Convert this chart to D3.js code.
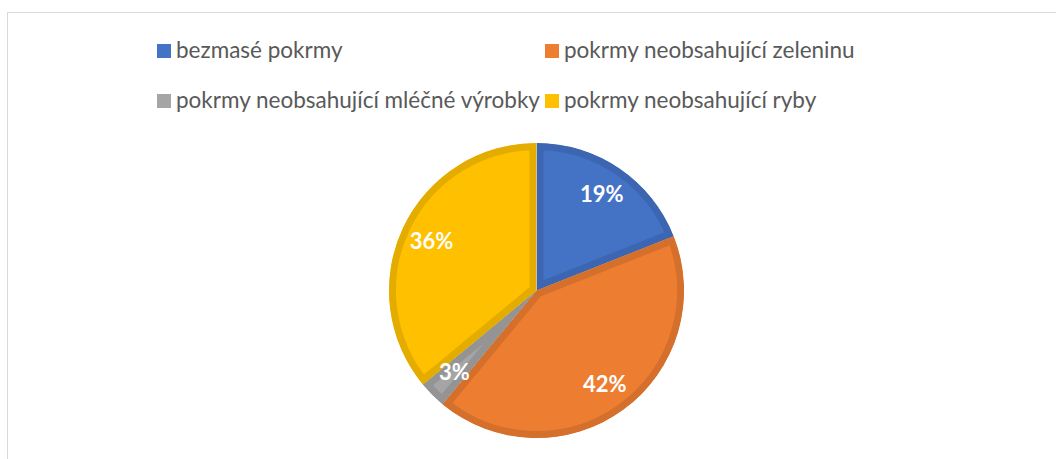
<!DOCTYPE html>
<html>
<head>
  <meta charset="utf-8">
  <title>Pie</title>
  <script src="https://cdn.jsdelivr.net/npm/d3@7/dist/d3.min.js"></script>
  <style>
    html, body { margin: 0; padding: 0; background: #fff; }
    svg { display: block; }
  </style>
</head>
<body>
<svg id="chart" width="1056" height="459"></svg>
<script>
  // data
  var categories = ['bezmasé pokrmy', 'pokrmy neobsahující zeleninu',
                    'pokrmy neobsahující mléčné výrobky', 'pokrmy neobsahující ryby'];
  var values = [19, 42, 3, 36];
  var fills = ['#4472C4', '#ED7D31', '#A5A5A5', '#FFC000'];
  var borders = ['#3C66B2', '#D46F2C', '#949494', '#E5AC00'];

  var svg = d3.select('#chart');

  // chart frame
  svg.append('rect')
    .attr('x', 7.5).attr('y', 12.5)
    .attr('width', 1100).attr('height', 500)
    .attr('fill', '#fff')
    .attr('stroke', '#D9D9D9')
    .attr('stroke-width', 1);

  // legend
  var legendPos = [[157, 58], [545, 58], [157, 108], [545, 108]];
  var legend = svg.append('g').attr('class', 'legend');
  categories.forEach(function(c, i) {
    var p = legendPos[i];
    legend.append('rect')
      .attr('x', p[0]).attr('y', p[1] - 14)
      .attr('width', 14).attr('height', 14)
      .attr('fill', fills[i]);
    legend.append('text')
      .attr('x', p[0] + 19).attr('y', p[1])
      .attr('font-family', 'Lato, Carlito, sans-serif')
      .attr('font-size', '22.5px')
      .attr('fill', '#595959')
      .text(c);
  });

  // pie
  var cx = 536.5, cy = 290.5, R = 147.5;
  var total = d3.sum(values);
  var pie = d3.pie().sort(null).value(function(d) { return d; });
  var arc = d3.arc().innerRadius(0).outerRadius(R);
  var labelArc = d3.arc().innerRadius(116).outerRadius(116);
  var arcs = pie(values);

  var g = svg.append('g').attr('transform', 'translate(' + cx + ',' + cy + ')');
  var defs = svg.append('defs');

  arcs.forEach(function(a, i) {
    defs.append('clipPath').attr('id', 'clip' + i)
      .append('path').attr('d', arc(a));
    g.append('path')
      .attr('d', arc(a))
      .attr('fill', fills[i])
      .attr('stroke', borders[i])
      .attr('stroke-width', 14)
      .attr('stroke-linejoin', 'miter')
      .attr('clip-path', 'url(#clip' + i + ')');
  });

  g.selectAll('text.lbl')
    .data(arcs)
    .enter().append('text')
    .attr('class', 'lbl')
    .attr('transform', function(d) { return 'translate(' + labelArc.centroid(d) + ')'; })
    .attr('text-anchor', 'middle')
    .attr('dy', '0.35em')
    .attr('font-family', 'Lato, Carlito, sans-serif')
    .attr('font-weight', 'bold')
    .attr('font-size', '22px')
    .attr('fill', '#fff')
    .text(function(d) { return Math.round(d.value / total * 100) + '%'; });
</script>
</body>
</html>
